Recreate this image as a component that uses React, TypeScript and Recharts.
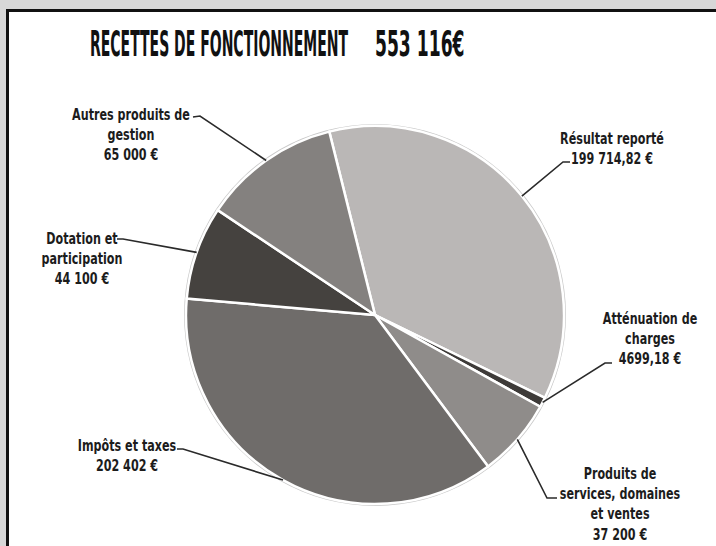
import { Cell, Pie, PieChart } from 'recharts';

const CATEGORIES = [
  'Résultat reporté',
  'Atténuation de charges',
  'Produits de services, domaines et ventes',
  'Impôts et taxes',
  'Dotation et participation',
  'Autres produits de gestion'
];
const VALUES = [199714.82, 4699.18, 37200, 202402, 44100, 65000];
const VALUE_LABELS = ['199 714,82 €', '4699,18 €', '37 200 €', '202 402 €', '44 100 €', '65 000 €'];
const LABEL_LINES = [
  ['Résultat reporté'],
  ['Atténuation de', 'charges'],
  ['Produits de', 'services, domaines', 'et ventes'],
  ['Impôts et taxes'],
  ['Dotation et', 'participation'],
  ['Autres produits de', 'gestion']
];
const COLORS = ['#bab7b6', '#3e3b39', '#8f8c8a', '#6f6c6a', '#45423f', '#84817f'];

const TITLE = 'RECETTES DE FONCTIONNEMENT';
const TOTAL_LABEL = '553 116€';

// label placement, relative to the pie centre
const LABEL_LAYOUT = [
  { elbow: [188, -153], stub: [195, -153], tx: 237, ty: -177 },
  { elbow: [230, 48], stub: [237, 48], tx: 275, ty: 3 },
  { elbow: [172, 183], stub: [182, 183], tx: 245, ty: 158 },
  { elbow: [-192, 134], stub: [-198, 134], tx: -248, ty: 130 },
  { elbow: [-252, -76], stub: [-258, -76], tx: -293, ty: -77 },
  { elbow: [-175, -199], stub: [-182, -198], tx: -244, ty: -201 }
];

const data = CATEGORIES.map((name, i) => ({ name, value: VALUES[i] }));
const ring = [{ name: 'total', value: VALUES.reduce((a, b) => a + b, 0) }];

const FONT = '"DejaVu Sans", sans-serif';
const RADIAN = Math.PI / 180;
const SQUEEZE = 0.72;

function renderLabel(props: any) {
  const { cx, cy, midAngle, outerRadius, index } = props;
  const layout = LABEL_LAYOUT[index];
  const ex = cx + outerRadius * Math.cos(-midAngle * RADIAN);
  const ey = cy + outerRadius * Math.sin(-midAngle * RADIAN);
  const lines = [...LABEL_LINES[index], VALUE_LABELS[index]];
  return (
    <g key={`label-${index}`}>
      <polyline
        points={`${ex},${ey} ${cx + layout.elbow[0]},${cy + layout.elbow[1]} ${cx + layout.stub[0]},${cy + layout.stub[1]}`}
        fill="none"
        stroke="#2a2a2a"
        strokeWidth={1.6}
      />
      <g transform={`translate(${cx + layout.tx},${cy + layout.ty}) scale(${SQUEEZE},1)`}>
        <text
          x={0}
          y={0}
          textAnchor="middle"
          fill="#1c1c1c"
          fontFamily={FONT}
          fontWeight="bold"
          fontSize={15.5}
        >
          {lines.map((line, i) => (
            <tspan key={i} x={0} dy={i === 0 ? 5.5 : 20.5}>
              {line}
            </tspan>
          ))}
        </text>
      </g>
    </g>
  );
}

const titleStyle = {
  position: 'absolute' as const,
  top: 24,
  fontFamily: FONT,
  fontWeight: 'bold',
  fontSize: 35,
  lineHeight: '40px',
  color: '#111',
  whiteSpace: 'pre' as const,
  transformOrigin: 'left top'
};

export default function App() {
  return (
    <div style={{ position: 'fixed', left: 0, top: 0, width: 716, height: 546, background: '#d7d7d7', overflow: 'hidden' }}>
      <div
        style={{
          position: 'absolute',
          left: 6,
          top: 9,
          width: 730,
          height: 560,
          background: '#ffffff',
          borderTop: '3px solid #111',
          borderLeft: '3px solid #111'
        }}
      />
      <div style={{ ...titleStyle, left: 90, transform: 'scaleX(0.40)' }}>{TITLE}</div>
      <div style={{ ...titleStyle, left: 375, transform: 'scaleX(0.49)' }}>{TOTAL_LABEL}</div>
      <div style={{ position: 'absolute', left: 0, top: 0 }}>
        <PieChart width={716} height={546}>
          <Pie
            data={ring}
            dataKey="value"
            cx={370}
            cy={310}
            innerRadius={189}
            outerRadius={191}
            fill="#c9c9c9"
            stroke="none"
            isAnimationActive={false}
          />
          <Pie
            data={data}
            dataKey="value"
            nameKey="name"
            cx={370}
            cy={310}
            outerRadius={189}
            startAngle={104}
            endAngle={-256}
            stroke="#ffffff"
            strokeWidth={2.5}
            label={renderLabel}
            labelLine={false}
            isAnimationActive={false}
          >
            {data.map((entry, i) => (
              <Cell key={entry.name} fill={COLORS[i]} />
            ))}
          </Pie>
        </PieChart>
      </div>
    </div>
  );
}
